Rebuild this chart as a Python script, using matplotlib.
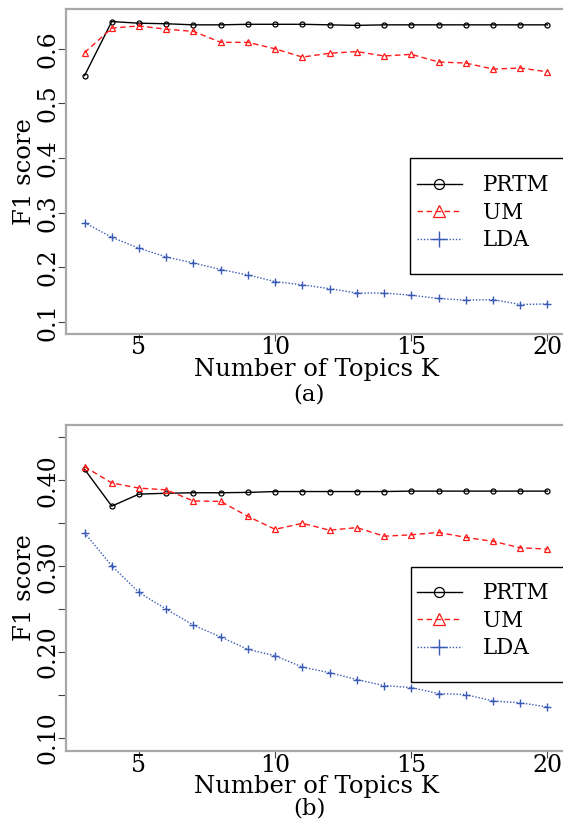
import matplotlib
matplotlib.use("Agg")
import matplotlib.pyplot as plt
from matplotlib.patches import Rectangle

# ---------------- data ----------------
K = list(range(3, 21))

prtm_a = [0.551, 0.650, 0.647, 0.646, 0.644, 0.644, 0.645, 0.645, 0.645, 0.644, 0.643,
          0.644, 0.644, 0.644, 0.644, 0.644, 0.644, 0.644]
um_a = [0.593, 0.638, 0.642, 0.636, 0.632, 0.612, 0.612, 0.600, 0.585, 0.592, 0.595,
        0.587, 0.590, 0.576, 0.574, 0.563, 0.565, 0.558]
lda_a = [0.282, 0.255, 0.235, 0.219, 0.208, 0.196, 0.186, 0.174, 0.168, 0.161, 0.153,
         0.153, 0.149, 0.143, 0.140, 0.141, 0.132, 0.133]

prtm_b = [0.413, 0.370, 0.384, 0.385, 0.3856, 0.3856, 0.386, 0.387, 0.387, 0.387, 0.387,
          0.387, 0.3875, 0.3875, 0.3875, 0.3875, 0.3875, 0.3875]
um_b = [0.416, 0.397, 0.391, 0.389, 0.376, 0.3755, 0.358, 0.343, 0.350, 0.342, 0.345,
        0.335, 0.3366, 0.3394, 0.3336, 0.329, 0.3215, 0.320]
lda_b = [0.339, 0.3005, 0.2695, 0.250, 0.2314, 0.2177, 0.2031, 0.1957, 0.1825, 0.176,
         0.168, 0.161, 0.1587, 0.1517, 0.1505, 0.143, 0.141, 0.136]

series_names = ["PRTM", "UM", "LDA"]
x_ticks = [5, 10, 15, 20]
y_ticks_a = [0.1, 0.2, 0.3, 0.4, 0.5, 0.6]
y_ticklabels_a = ["0.1", "0.2", "0.3", "0.4", "0.5", "0.6"]
y_ticks_b = [0.10, 0.15, 0.20, 0.25, 0.30, 0.35, 0.40, 0.45]
y_ticklabels_b = ["0.10", "", "0.20", "", "0.30", "", "0.40", ""]
panel_tags = ["(a)", "(b)"]
xlabel = "Number of Topics K"
ylabel = "F1 score"

# ---------------- style ----------------
plt.rcParams["font.family"] = ["DejaVu Serif"]
W, H = 563, 825
fig = plt.figure(figsize=(W / 100, H / 100), dpi=100)

BLUE = "#3a5bb5"
styles = [
    dict(color="black", linestyle="-", marker="o", markersize=3.6, mfc="none", mew=0.9, lw=1.0),
    dict(color="#ff1a1a", linestyle=(0, (4, 2.5)), marker="^", markersize=4.6, mfc="none", mew=0.9, lw=1.0),
    dict(color=BLUE, linestyle=(0, (1, 1.3)), marker="+", markersize=5.5, mew=1.0, lw=1.0),
]

FS_TICK = 17
FS_LAB = 17.5
LFS = 15.5
SPINE = "#a8a8a8"


def px_rect(left, top, right, bottom):
    return [left / W, 1 - bottom / H, (right - left) / W, (bottom - top) / H]


panels = [
    dict(rect=px_rect(66, 9, 566, 334), ylim=(0.078, 0.673), data=[prtm_a, um_a, lda_a],
         yt=y_ticks_a, ytl=y_ticklabels_a, frame=(0.688, 0.1846, 0.5415), leg_top=0.491,
         tag_xy=(309, 401), xl=-0.074),
    dict(rect=px_rect(66, 425, 566, 751), ylim=(0.0848, 0.4645), data=[prtm_b, um_b, lda_b],
         yt=y_ticks_b, ytl=y_ticklabels_b, frame=(0.690, 0.2117, 0.5644), leg_top=0.517,
         tag_xy=(309, 815), xl=-0.074),
]

for i, p in enumerate(panels):
    ax = fig.add_axes(p["rect"])
    for vals, name, st in zip(p["data"], series_names, styles):
        ax.plot(K, vals, label=name, clip_on=False, **st)
    ax.set_xlim(2.32, 20.68)
    ax.set_ylim(*p["ylim"])
    ax.set_xticks(x_ticks)
    ax.set_xticklabels([str(t) for t in x_ticks])
    ax.set_yticks(p["yt"])
    ax.set_yticklabels(p["ytl"])
    for s in ax.spines.values():
        s.set_color(SPINE)
        s.set_linewidth(1.6)
    ax.tick_params(axis="x", direction="out", length=5, width=0.8, color="#444444",
                   labelsize=FS_TICK, pad=-3.2)
    ax.tick_params(axis="y", direction="out", length=5.8, width=0.8, color="#444444",
                   labelsize=FS_TICK, pad=-1.2)
    plt.setp(ax.get_yticklabels(), rotation=90, va="center")

    ax.set_xlabel(xlabel, fontsize=FS_LAB)
    ax.xaxis.set_label_coords(0.5, p["xl"])
    ax.set_ylabel(ylabel, fontsize=FS_LAB)
    ax.yaxis.set_label_coords(-0.06, 0.5)

    fx, fy0, fy1 = p["frame"]
    ax.add_patch(Rectangle((fx, fy0), 1.0 - fx, fy1 - fy0, transform=ax.transAxes,
                           fill=False, edgecolor="black", lw=1.0, clip_on=False, zorder=5))
    ax.legend(loc="upper left", bbox_to_anchor=(0.702, p["leg_top"]), frameon=False,
              fontsize=LFS, borderpad=0, borderaxespad=0, handlelength=2.09,
              handletextpad=0.98, labelspacing=0.25, markerscale=2.0)

    tx, ty = p["tag_xy"]
    fig.text(tx / W, 1 - ty / H, panel_tags[i], fontsize=16.5, ha="center", va="baseline")

fig.savefig("out.png", dpi=100)
